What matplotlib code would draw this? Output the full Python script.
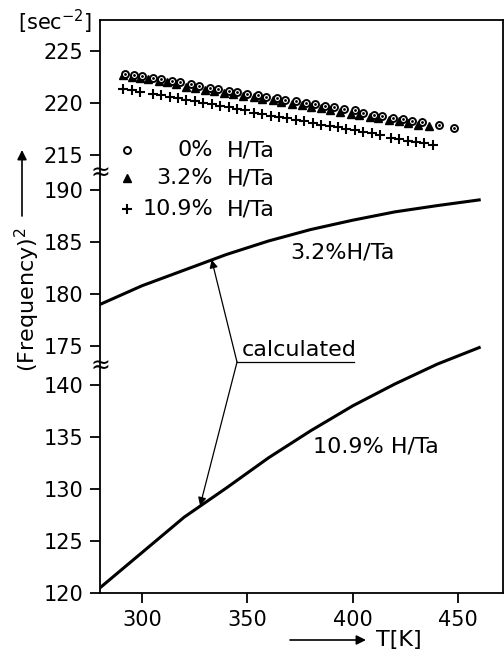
import numpy as np
import matplotlib
matplotlib.use('Agg')
import matplotlib.pyplot as plt

tick_fontsize = 15
text_fontsize = 16
curve_width = 2.2

# measured points, 0 % H/Ta
T_0 = [292, 296, 300, 305, 309, 314, 318, 323, 327, 332, 336, 341, 345, 350, 355, 359, 364,
       368, 373, 378, 382, 387, 391, 396, 401, 405, 410, 414, 419, 424, 428, 433, 441, 448]
f_0 = [222.8, 222.7, 222.6, 222.4, 222.3, 222.1, 222.0, 221.8, 221.7, 221.5, 221.4, 221.2,
       221.1, 220.9, 220.8, 220.6, 220.5, 220.3, 220.2, 220.0, 219.9, 219.7, 219.6, 219.4,
       219.3, 219.1, 218.9, 218.8, 218.6, 218.5, 218.3, 218.2, 217.9, 217.6]

# measured points, 3.2 % H/Ta
T_32 = [291, 295, 299, 303, 308, 312, 316, 321, 325, 330, 334, 339, 343, 348, 353, 357, 362,
        366, 371, 376, 380, 385, 389, 394, 399, 403, 408, 412, 417, 422, 426, 431, 436]
f_32 = [222.7, 222.5, 222.4, 222.3, 222.1, 222.0, 221.8, 221.6, 221.5, 221.3, 221.2, 221.0,
        220.9, 220.7, 220.6, 220.4, 220.3, 220.1, 219.9, 219.8, 219.6, 219.5, 219.3, 219.2,
        219.0, 218.9, 218.7, 218.6, 218.4, 218.3, 218.1, 217.9, 217.8]

# measured points, 10.9 % H/Ta
T_109 = [291, 295, 299, 305, 309, 313, 317, 321, 325, 329, 333, 337, 341, 345, 349, 353, 357,
         361, 365, 369, 373, 377, 381, 385, 389, 393, 397, 401, 405, 409, 413, 418, 422, 426,
         430, 434, 438]
f_109 = [221.4, 221.3, 221.1, 220.9, 220.8, 220.6, 220.5, 220.3, 220.2, 220.0, 219.9, 219.7,
         219.6, 219.4, 219.3, 219.1, 219.0, 218.8, 218.7, 218.6, 218.4, 218.3, 218.1, 217.9,
         217.8, 217.7, 217.5, 217.4, 217.2, 217.1, 216.9, 216.7, 216.6, 216.4, 216.3, 216.2,
         216.0]

# calculated curves
T_calc = [280, 300, 320, 340, 360, 380, 400, 420, 440, 460]
calc_32 = [179.0, 180.8, 182.3, 183.8, 185.1, 186.2, 187.1, 187.9, 188.5, 189.05]
calc_109 = [120.5, 123.9, 127.3, 130.1, 133.0, 135.6, 138.0, 140.1, 142.0, 143.6]

y_ticks = [120, 125, 130, 135, 140, 175, 180, 185, 190, 215, 220, 225]
x_ticks = [300, 350, 400, 450]

# broken axis: 120-140 | 175-190 | 215-225 squeezed together
knots_val = [100, 140, 175, 190, 215, 240]
knots_u = [-20, 20, 23.75, 38.75, 42.1, 67.1]
def fwd(y):
    return np.interp(y, knots_val, knots_u)
def inv(u):
    return np.interp(u, knots_u, knots_val)

fig = plt.figure(figsize=(5.04, 6.5), dpi=100)
pos = [100/504, 57/650, 403/504, 573/650]
ax = fig.add_axes(pos)
ax.set_yscale('function', functions=(fwd, inv))
ax.set_ylim(120, 228.0)
ax.set_xlim(280, 471.3)
ax.set_yticks(y_ticks)
ax.set_yticklabels([str(v) for v in y_ticks])
ax.set_xticks(x_ticks)
ax.minorticks_off()
ax.tick_params(direction='out', length=7, width=1.3, labelsize=tick_fontsize, pad=5)
for s in ax.spines.values():
    s.set_linewidth(1.3)

# the lower curve keeps the lower segment's linear scale, also across the break
ax_low = fig.add_axes(pos, sharex=ax)
ax_low.set_ylim(120, 175.1)
ax_low.axis('off')
ax_low.patch.set_visible(False)

ax.plot(T_32, f_32, ls='none', marker='^', ms=6, color='k', clip_on=False)
ax.plot(T_0, f_0, ls='none', marker='o', ms=5, mfc='white', mec='k', mew=1.4)
ax.plot(T_0, f_0, ls='none', marker='.', ms=2, color='k')
ax.plot(T_109, f_109, ls='none', marker='+', ms=7, mew=1.5, color='k')

ax.plot(T_calc, calc_32, color='k', lw=curve_width)
ax_low.plot(T_calc, calc_109, color='k', lw=curve_width)

# axis break marks
for yb in [202.5, 157.5]:
    ax.text(0.0, yb, '≈', transform=ax.get_yaxis_transform(), ha='center', va='center',
            fontsize=17)

# legend drawn by hand
ax.plot([0.067], [0.773], transform=ax.transAxes, marker='o', ms=5, mfc='white', mec='k', mew=1.4)
ax.plot([0.067], [0.724], transform=ax.transAxes, marker='^', ms=6, color='k')
ax.plot([0.067], [0.670], transform=ax.transAxes, marker='+', ms=7, mew=1.5, color='k')
for yy, lab in zip([0.773, 0.724, 0.670], ['0%', '3.2%', '10.9%']):
    ax.text(0.28, yy, lab, transform=ax.transAxes, ha='right', va='center', fontsize=text_fontsize)
    ax.text(0.316, yy, 'H/Ta', transform=ax.transAxes, ha='left', va='center', fontsize=text_fontsize)

ax.text(0.472, 0.595, '3.2%H/Ta', transform=ax.transAxes, ha='left', va='center', fontsize=text_fontsize)
ax.text(0.529, 0.255, '10.9% H/Ta', transform=ax.transAxes, ha='left', va='center', fontsize=text_fontsize)

ax.text(0.352, 0.424, 'calculated', transform=ax.transAxes, ha='left', va='center', fontsize=text_fontsize)
ax.plot([0.34, 0.63], [0.403, 0.403], transform=ax.transAxes, color='k', lw=0.9)
arrow = dict(arrowstyle='-|>', lw=0.9, color='k', mutation_scale=12, shrinkA=0, shrinkB=0)
ax.annotate('', xy=(333, 183.3), xycoords='data', xytext=(0.34, 0.403), textcoords='axes fraction',
            arrowprops=arrow)
ax_low.annotate('', xy=(327.5, 128.4), xycoords='data', xytext=(0.34, 0.403), textcoords='axes fraction',
                arrowprops=arrow)

# axis labels with arrows
fig.text(18/504, 1 - 22/650, '[sec$^{-2}$]', ha='left', va='center', fontsize=tick_fontsize)
fig.text(27/504, 1 - 300/650, '(Frequency)$^2$', rotation=90, ha='center', va='center',
         fontsize=text_fontsize)
ax.annotate('', xy=(22/504, 1 - 150/650), xycoords='figure fraction',
            xytext=(22/504, 1 - 216/650), textcoords='figure fraction',
            arrowprops=dict(arrowstyle='-|>', lw=1.2, color='k', mutation_scale=14, shrinkA=0, shrinkB=0))
fig.text(376/504, 1 - 640/650, 'T[K]', ha='left', va='center', fontsize=text_fontsize)
ax.annotate('', xy=(366/504, 1 - 640/650), xycoords='figure fraction',
            xytext=(290/504, 1 - 640/650), textcoords='figure fraction',
            arrowprops=dict(arrowstyle='-|>', lw=1.2, color='k', mutation_scale=14, shrinkA=0, shrinkB=0))

fig.savefig('out.png', dpi=100)
